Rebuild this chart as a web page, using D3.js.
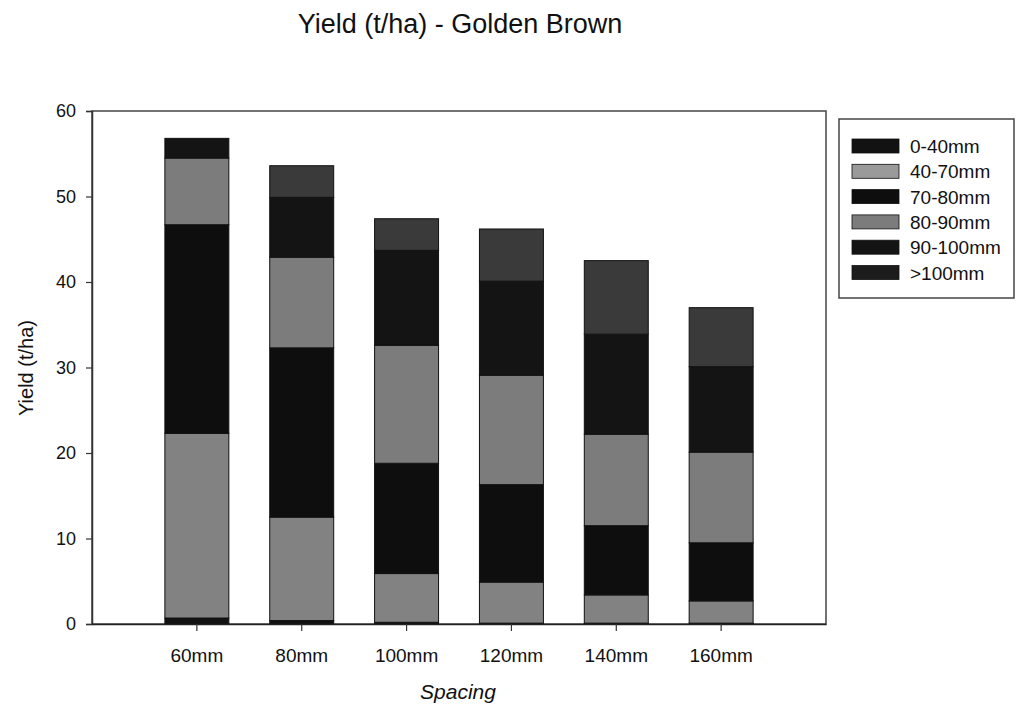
<!DOCTYPE html>
<html><head><meta charset="utf-8">
<script src="https://cdn.jsdelivr.net/npm/d3@7"></script>
<style>
body{margin:0;background:#fff;}
text{font-family:Arial,"Liberation Sans",sans-serif;fill:#111;}
</style></head>
<body><svg id="c" width="1019" height="712"></svg>
<script>
const categories = ["60mm","80mm","100mm","120mm","140mm","160mm"];
const seriesNames = ["0-40mm","40-70mm","70-80mm","80-90mm","90-100mm",">100mm"];
const s0_40   = [0.7, 0.4, 0.2, 0.1, 0.1, 0.1];
const s40_70  = [21.6, 12.1, 5.7, 4.8, 3.3, 2.6];
const s70_80  = [24.4, 19.8, 12.9, 11.4, 8.1, 6.8];
const s80_90  = [7.8, 10.6, 13.8, 12.8, 10.7, 10.6];
const s90_100 = [2.3, 7.0, 11.1, 11.0, 11.7, 10.0];
const s100p   = [0.0, 3.7, 3.7, 6.1, 8.6, 6.9];
const yTicks = [0,10,20,30,40,50,60];

const seriesValues = [s0_40, s40_70, s70_80, s80_90, s90_100, s100p];
const colors = ["#121212","#828282","#0e0e0e","#7c7c7c","#141414","#3a3a3a"];
const legendColors = ["#121212","#9a9a9a","#0e0e0e","#7c7c7c","#141414","#1c1c1c"];

const rows = categories.map((c,i)=>{const r={cat:c}; seriesNames.forEach((s,j)=>r[s]=seriesValues[j][i]); return r;});
const stacked = d3.stack().keys(seriesNames)(rows);

const svg = d3.select("#c");
const L=92, R=826, T=111, B=624;
const x = d3.scaleBand().domain(categories).range([L,R]).paddingInner(0.39).paddingOuter(0.695);
const y = d3.scaleLinear().domain([0,60]).range([B,T]);

// frame
svg.append("rect").attr("x",L).attr("y",T).attr("width",R-L).attr("height",B-T)
  .attr("fill","none").attr("stroke","#444").attr("stroke-width",1.5);

// bars
const g = svg.append("g");
stacked.forEach((layer,j)=>{
  g.selectAll(null).data(layer).join("rect")
    .attr("x",d=>x(d.data.cat))
    .attr("width",x.bandwidth())
    .attr("y",d=>y(d[1]))
    .attr("height",d=>Math.max(0,y(d[0])-y(d[1])))
    .attr("fill",colors[j])
    .attr("stroke","#111").attr("stroke-width",d=>(d[1]-d[0])>0?1:0);
});

// axes
const yAxis = d3.axisLeft(y).tickValues(yTicks).tickSize(6).tickPadding(10);
const ya = svg.append("g").attr("transform",`translate(${L},0)`).call(yAxis);
ya.select(".domain").attr("stroke","#333").attr("stroke-width",1.5);
ya.selectAll(".tick line").attr("stroke","#333").attr("stroke-width",1.2);
ya.selectAll("text").style("font-size","18px").attr("fill","#111");

const xAxis = d3.axisBottom(x).tickSize(7).tickPadding(18).tickSizeOuter(0);
const xa = svg.append("g").attr("transform",`translate(0,${B})`).call(xAxis);
xa.select(".domain").attr("stroke","#222").attr("stroke-width",1.5);
xa.selectAll(".tick line").attr("stroke","#333").attr("stroke-width",1.2);
xa.selectAll("text").style("font-size","19px").attr("fill","#111");

// titles
svg.append("text").attr("x",460).attr("y",33).attr("text-anchor","middle")
  .style("font-size","27px").text("Yield (t/ha) - Golden Brown");
svg.append("text").attr("x",458).attr("y",699).attr("text-anchor","middle")
  .style("font-size","21px").style("font-style","italic").text("Spacing");
svg.append("text").attr("transform","translate(33,368) rotate(-90)").attr("text-anchor","middle")
  .style("font-size","20px").text("Yield (t/ha)");

// legend
const lg = svg.append("g");
lg.append("rect").attr("x",839).attr("y",119).attr("width",175).attr("height",179)
  .attr("fill","#fff").attr("stroke","#444").attr("stroke-width",1.5);
seriesNames.forEach((s,i)=>{
  const cy = 146 + i*25.3;
  lg.append("rect").attr("x",852).attr("y",cy-7).attr("width",47).attr("height",14)
    .attr("fill",legendColors[i]).attr("stroke","#111").attr("stroke-width",0.8);
  lg.append("text").attr("x",910).attr("y",cy+7).style("font-size","19px").text(s);
});
</script></body></html>
